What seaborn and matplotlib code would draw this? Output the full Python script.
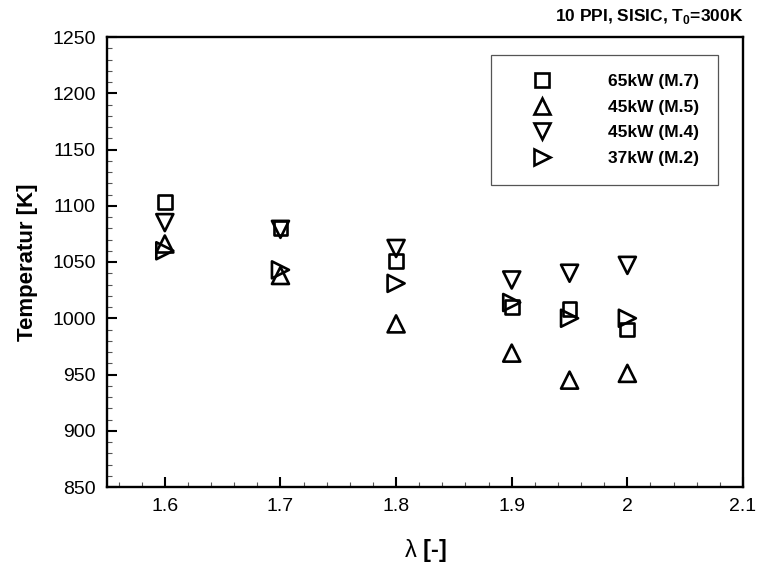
import matplotlib
matplotlib.use("Agg")
import matplotlib.pyplot as plt
from matplotlib.lines import Line2D
from matplotlib.ticker import MultipleLocator
import seaborn as sns
import pandas as pd

# Measured temperatures per excess-air ratio for each operating point
lam = [1.6, 1.7, 1.8, 1.9, 1.95, 2.0]
t_65kw_m7 = [1103, 1080, 1051, 1010, 1008, 990]
t_45kw_m5 = [1066, 1038, 995, 969, 945, 951]
t_45kw_m4 = [1085, 1079, 1062, 1034, 1040, 1047]
t_37kw_m2 = [1060, 1043, 1031, 1014, 1000, 1000]

labels = ["65kW (M.7)", "45kW (M.5)", "45kW (M.4)", "37kW (M.2)"]
markers = ["s", "^", "v", ">"]
sizes = [100, 150, 150, 150]
series = [t_65kw_m7, t_45kw_m5, t_45kw_m4, t_37kw_m2]
xtick_vals = [1.6, 1.7, 1.8, 1.9, 2.0, 2.1]
xtick_labels = ["1.6", "1.7", "1.8", "1.9", "2", "2.1"]

sns.set_style("ticks")
plt.rcParams["font.family"] = ["Liberation Sans", "DejaVu Sans"]
plt.rcParams["mathtext.fontset"] = "custom"
plt.rcParams["mathtext.rm"] = "Liberation Sans"
plt.rcParams["mathtext.bf"] = "Liberation Sans:bold"
plt.rcParams["text.color"] = "black"
plt.rcParams["axes.labelcolor"] = "black"
plt.rcParams["xtick.color"] = "black"
plt.rcParams["ytick.color"] = "black"

fig = plt.figure(figsize=(7.57, 5.67), dpi=100)
ax = fig.add_axes([107 / 757, 80 / 567, 636 / 757, 450 / 567])

for lab, mk, sz, vals in zip(labels, markers, sizes, series):
    df = pd.DataFrame({"lam": lam, "T": vals})
    sns.scatterplot(data=df, x="lam", y="T", marker=mk, s=sz, ax=ax,
                    linewidth=1.9, legend=False)
    coll = ax.collections[-1]
    coll.set_facecolor("none")
    coll.set_edgecolor("black")

ax.set_xlim(1.55, 2.1)
ax.set_ylim(850, 1250)
ax.xaxis.set_minor_locator(MultipleLocator(0.02))
ax.yaxis.set_major_locator(MultipleLocator(50))
ax.yaxis.set_minor_locator(MultipleLocator(10))
ax.set_xticks(xtick_vals)
ax.set_xticklabels(xtick_labels)

ax.tick_params(which="both", direction="in", top=False, right=False,
               labelsize=14, color="black", labelcolor="black", pad=8)
ax.tick_params(which="major", length=7, width=1.5)
ax.tick_params(which="minor", length=3.5, width=0.8, color="#555555")
for sp in ax.spines.values():
    sp.set_visible(True)
    sp.set_linewidth(1.7)
    sp.set_color("black")

ax.set_xlabel(r"$\mathrm{\lambda}$ [-]", fontsize=17, fontweight="bold",
              labelpad=16)
ax.set_ylabel("Temperatur [K]", fontsize=16, fontweight="bold", labelpad=10)

fig.text(743 / 757, 1 - 17 / 567, r"10 PPI, SISIC, T$_\mathbf{0}$=300K",
         ha="right", va="center", fontsize=12.5, fontweight="bold")

handles = [Line2D([], [], linestyle="none", marker=m, markersize=ms,
                  markerfacecolor="none", markeredgecolor="black",
                  markeredgewidth=1.9)
           for m, ms in zip(markers, [10, 12, 12, 12])]
leg = ax.legend(handles, labels, loc="upper right",
                bbox_to_anchor=(611 / 636, 432 / 450), borderaxespad=0,
                frameon=True, fancybox=False, framealpha=1,
                edgecolor="#555555", handlelength=3.6, handletextpad=2.0,
                labelspacing=0.6, borderpad=1.1,
                prop={"weight": "bold", "size": 12.5})
leg.get_frame().set_linewidth(0.9)
for t in leg.get_texts():
    t.set_color("black")

fig.savefig("out.png", dpi=100)
